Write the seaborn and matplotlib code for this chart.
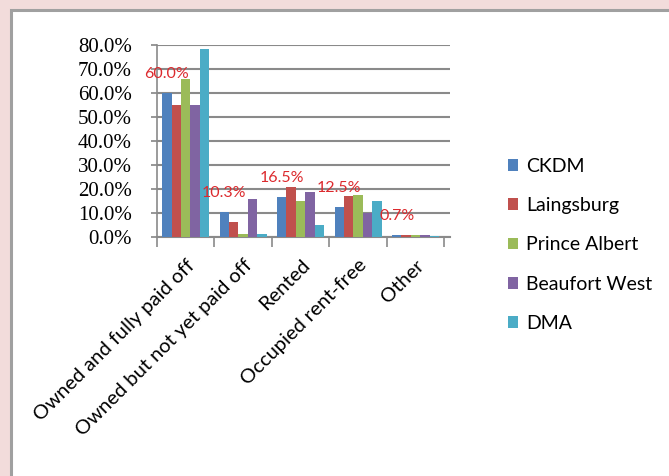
import matplotlib
matplotlib.use("Agg")
import matplotlib.pyplot as plt
import seaborn as sns
import pandas as pd
from matplotlib.patches import Rectangle
from matplotlib.ticker import PercentFormatter, FixedLocator

categories = ["Owned and fully paid off", "Owned but not yet paid off", "Rented",
              "Occupied rent-free", "Other"]
series = ["CKDM", "Laingsburg", "Prince Albert", "Beaufort West", "DMA"]
ckdm = [60.0, 10.3, 16.5, 12.5, 0.7]
laingsburg = [55.2, 6.2, 20.8, 17.0, 1.0]
prince_albert = [65.8, 1.2, 15.1, 17.6, 0.9]
beaufort_west = [55.2, 15.8, 18.6, 10.0, 0.8]
dma = [78.5, 1.3, 5.1, 14.9, 0.3]
label_text = ["60.0%", "10.3%", "16.5%", "12.5%", "0.7%"]
colors = ["#4F81BD", "#C0504D", "#9BBB59", "#8064A2", "#4BACC6"]

rows = []
for s, vals in zip(series, [ckdm, laingsburg, prince_albert, beaufort_west, dma]):
    for c, v in zip(categories, vals):
        rows.append({"Category": c, "Series": s, "Value": v})
df = pd.DataFrame(rows)

sns.set_theme(style="white")
plt.rcParams["font.family"] = ["Lato", "DejaVu Sans"]
plt.rcParams["text.color"] = "black"
plt.rcParams["xtick.color"] = "black"
plt.rcParams["ytick.color"] = "black"

fig = plt.figure(figsize=(6.69, 4.76), dpi=100)
fig.patch.set_facecolor("#F2DCDB")
# inner white panel with gray frame line
fig.patches.append(Rectangle((10.5 / 669, -0.05), 1.2, 1 - 9.5 / 476 + 0.05,
                             transform=fig.transFigure, facecolor="white",
                             edgecolor="#A0A0A0", linewidth=2.2, zorder=-5))

ax = fig.add_axes([157 / 669, 1 - 237 / 476, (450 - 157) / 669, (237 - 45) / 476])
ax.set_zorder(2)
ax.set_facecolor("none")
sns.barplot(data=df, x="Category", y="Value", hue="Series", palette=colors,
            width=0.82, gap=0, ax=ax, legend=True, saturation=1,
            edgecolor="none", zorder=3)

ax.set_ylim(0, 80)
ax.set_xlim(-0.5, 4.6)
ax.set_yticks(range(0, 81, 10))
ax.yaxis.set_major_formatter(PercentFormatter(decimals=1))
ax.grid(axis="y", color="#8A8A8A", linewidth=1.5, zorder=0)
ax.set_axisbelow(True)
ax.set_xlabel("")
ax.set_ylabel("")
for side in ["top", "right"]:
    ax.spines[side].set_visible(False)
ax.spines["left"].set_color("#8A8A8A")
ax.spines["left"].set_linewidth(1.2)
ax.spines["bottom"].set_color("#8A8A8A")
ax.spines["bottom"].set_linewidth(1.5)

for lbl in ax.get_yticklabels():
    lbl.set_fontfamily(["Liberation Serif", "DejaVu Serif"])
    lbl.set_fontsize(15)
    lbl.set_color("black")
ax.tick_params(axis="y", length=4, color="#8A8A8A", pad=14, left=True)

ax.set_xticks(range(len(categories)))
ax.set_xticklabels(categories, rotation=45, ha="right", rotation_mode="anchor",
                   fontsize=14.5, color="black")
ax.tick_params(axis="x", length=0, pad=14)
ax.xaxis.set_minor_locator(FixedLocator([i - 0.5 for i in range(len(categories) + 1)]))
ax.tick_params(axis="x", which="minor", length=7, color="#8A8A8A", bottom=True, width=1.2)

# data labels above CKDM bars
bar_w = 0.82 / len(series)
for i, (v, t) in enumerate(zip(ckdm, label_text)):
    xpos = i - 0.41 + bar_w / 2
    ax.annotate(t, (xpos, v), xytext=(0, 9), textcoords="offset points",
                ha="center", va="bottom", color="#DC2A2E", fontsize=11.5, zorder=5)

handles, labels = ax.get_legend_handles_labels()
leg = ax.legend(handles, labels, loc="upper left", bbox_to_anchor=(500 / 669, 1 - 150 / 476),
                bbox_transform=fig.transFigure, frameon=False, fontsize=14,
                handlelength=0.55, handleheight=0.55, handletextpad=0.4, labelspacing=1.15,
                borderaxespad=0)
for t in leg.get_texts():
    t.set_color("black")

fig.savefig("out.png", dpi=100, facecolor=fig.get_facecolor())
